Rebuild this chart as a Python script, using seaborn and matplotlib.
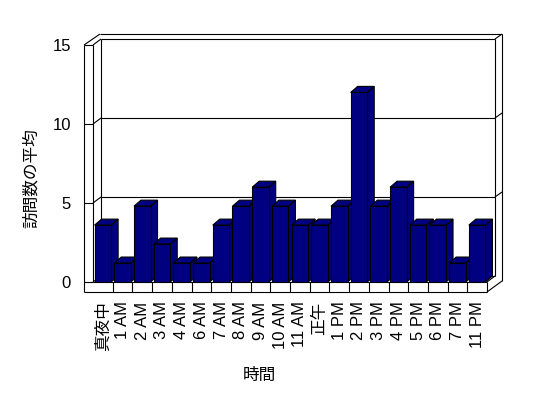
import matplotlib
matplotlib.use("Agg")
import matplotlib.pyplot as plt
import seaborn as sns
import pandas as pd
from matplotlib.patches import Polygon

categories = ["真夜中", "1 AM", "2 AM", "3 AM", "4 AM", "6 AM", "7 AM", "8 AM", "9 AM",
              "10 AM", "11 AM", "正午", "1 PM", "2 PM", "3 PM", "4 PM", "5 PM", "6 PM",
              "7 PM", "11 PM"]
values = [3.6, 1.2, 4.8, 2.4, 1.2, 1.2, 3.6, 4.8, 6.0, 4.8, 3.6, 3.6, 4.8, 12.0, 4.8,
          6.0, 3.6, 3.6, 1.2, 3.6]
y_ticks = [0, 5, 10, 15]
x_title = "時間"
y_title = "訪問数の平均"

sns.set_style("white")
plt.rcParams["font.family"] = ["Liberation Sans", "Noto Sans CJK JP", "DejaVu Sans"]
plt.rcParams["text.color"] = "black"
plt.rcParams["xtick.color"] = "black"
plt.rcParams["ytick.color"] = "black"

W, H = 548, 398
fig = plt.figure(figsize=(W / 100, H / 100), dpi=100)
ax = fig.add_axes([93 / W, (H - 282) / H, 394 / W, 237 / H])

df = pd.DataFrame({"cat": categories, "val": values})
sns.barplot(data=df, x="cat", y="val", color="#000080", saturation=1,
            edgecolor="black", linewidth=0.8, width=0.84, ax=ax, zorder=3)

n = len(categories)
L, R = -0.5, n - 0.5
ymax = 15
ax.set_xlim(L, R)
ax.set_ylim(0, ymax)
for s in ax.spines.values():
    s.set_visible(False)
ax.grid(False)

def px(d):
    return d * (R - L) / 394

def py(d):
    return d * ymax / 237

lc = dict(color="black", lw=0.8, clip_on=False, zorder=1, solid_capstyle="butt")

def line(x0, y0, x1, y1):
    ax.plot([x0, x1], [y0, y1], **lc)

# walls
bx, by = px(8), py(6)       # depth of plot
tx, ty = px(15), py(11)     # back wall outer
lw_ = px(9)
fh = py(10)
# left wall
line(L - lw_, ymax, L - lw_, -fh)
line(L, ymax, L, 0)
line(L + bx, ymax + by, L + bx, by)
line(L, ymax, L + bx, ymax + by)
line(L - lw_, ymax, L - lw_ + px(16), ymax + ty)
line(L - lw_, ymax, L, ymax)
# top
line(L + bx, ymax + by, R + bx, ymax + by)
line(L - lw_ + px(16), ymax + ty, R + tx, ymax + ty)
line(R + bx, ymax + by, R + tx, ymax + ty)
# right
line(R + bx, ymax + by, R + bx, by)
line(R + tx, ymax + ty, R + tx, -fh + ty)
# grid
for v in y_ticks[:-1]:
    line(L - lw_, v, L, v)
    line(L, v, L + bx, v + by)
    line(L + bx, v + by, R + bx, v + by)
    if v > 0:
        line(R + bx, v + by, R + tx, v + ty)
# floor
line(L, 0, R, 0)
line(L - lw_, -fh, R, -fh)
line(R, 0, R, -fh)
line(R, 0, R + bx, by)
line(R, -fh, R + tx, -fh + ty)
for k in range(n - 1):
    line(k + 0.5, 0, k + 0.5, -fh)

# 3D faces of bars
dx, dy = px(7), py(6)
for i, p in enumerate(ax.patches):
    x, w, h = p.get_x(), p.get_width(), p.get_height()
    z = 3 + i * 0.01
    p.set_zorder(z + 0.005)
    top = Polygon([(x, h), (x + w, h), (x + w + dx, h + dy), (x + dx, h + dy)],
                  closed=True, facecolor="#000080", edgecolor="black", lw=0.8,
                  zorder=z, clip_on=False)
    side = Polygon([(x + w, 0), (x + w + dx, dy), (x + w + dx, h + dy), (x + w, h)],
                   closed=True, facecolor="#000080", edgecolor="black", lw=0.8,
                   zorder=z, clip_on=False)
    ax.add_patch(side)
    ax.add_patch(top)

ax.set_yticks(y_ticks)
ax.set_yticklabels([str(t) for t in y_ticks])
ax.set_xticks(range(n))
ax.set_xticklabels(categories, rotation=90, va="top", ha="center")
ax.tick_params(axis="x", length=0, pad=14, labelsize=12, labelcolor="black")
ax.tick_params(axis="y", length=0, pad=16, labelsize=12, labelcolor="black")
ax.set_xlabel("")
ax.set_ylabel("")

fig.text(259 / W, 1 - 375 / H, x_title, ha="center", va="center", fontsize=12, color="black")
fig.text(31 / W, 1 - 178 / H, y_title, ha="center", va="center", rotation=90,
         fontsize=12, color="black")

fig.savefig("out.png", dpi=100)
